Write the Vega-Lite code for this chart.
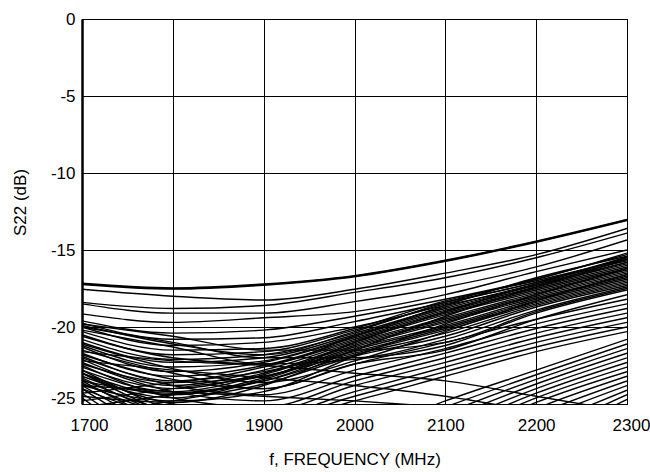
{
  "$schema": "https://vega.github.io/schema/vega-lite/v6.json",
  "autosize": {"type": "none"},
  "padding": {"left": 82, "top": 19, "right": 23, "bottom": 68},
  "width": 545,
  "height": 385,
  "background": "white",
  "config": {
    "font": "Liberation Sans, Arial, sans-serif",
    "view": {"stroke": "#000", "strokeWidth": 1}
  },
  "data": {"values": [
    {"c":"U1","f":1700,"s":-17.2},{"c":"U1","f":1800,"s":-17.5},{"c":"U1","f":1900,"s":-17.25},{"c":"U1","f":2000,"s":-16.7},{"c":"U1","f":2100,"s":-15.7},{"c":"U1","f":2200,"s":-14.46},{"c":"U1","f":2300,"s":-13.05},
    {"c":"U2","f":1700,"s":-17.55},{"c":"U2","f":1800,"s":-18.0},{"c":"U2","f":1900,"s":-18.25},{"c":"U2","f":2000,"s":-17.55},{"c":"U2","f":2100,"s":-16.5},{"c":"U2","f":2200,"s":-15.3},{"c":"U2","f":2300,"s":-13.6},
    {"c":"U3","f":1700,"s":-18.4},{"c":"U3","f":1800,"s":-18.8},{"c":"U3","f":1900,"s":-18.6},{"c":"U3","f":2000,"s":-17.75},{"c":"U3","f":2100,"s":-16.8},{"c":"U3","f":2200,"s":-15.5},{"c":"U3","f":2300,"s":-13.9},
    {"c":"U4","f":1700,"s":-18.5},{"c":"U4","f":1800,"s":-19.1},{"c":"U4","f":1900,"s":-19.1},{"c":"U4","f":2000,"s":-18.35},{"c":"U4","f":2100,"s":-17.4},{"c":"U4","f":2200,"s":-16.1},{"c":"U4","f":2300,"s":-14.35},
    {"c":"U5","f":1700,"s":-19.15},{"c":"U5","f":1800,"s":-19.7},{"c":"U5","f":1900,"s":-19.4},{"c":"U5","f":2000,"s":-19.0},{"c":"U5","f":2100,"s":-17.9},{"c":"U5","f":2200,"s":-16.4},{"c":"U5","f":2300,"s":-15.0},
    {"c":"U6","f":1700,"s":-19.6},{"c":"U6","f":1800,"s":-20.4},{"c":"U6","f":1900,"s":-20.2},{"c":"U6","f":2000,"s":-19.3},{"c":"U6","f":2100,"s":-18.2},{"c":"U6","f":2200,"s":-16.9},{"c":"U6","f":2300,"s":-15.2},
    {"c":"U7","f":1700,"s":-19.75},{"c":"U7","f":1800,"s":-20.8},{"c":"U7","f":1900,"s":-20.7},{"c":"U7","f":2000,"s":-19.65},{"c":"U7","f":2100,"s":-18.4},{"c":"U7","f":2200,"s":-17.1},{"c":"U7","f":2300,"s":-15.45},
    {"c":"U8","f":1700,"s":-20.0},{"c":"U8","f":1800,"s":-21.2},{"c":"U8","f":1900,"s":-21.0},{"c":"U8","f":2000,"s":-20.0},{"c":"U8","f":2100,"s":-18.6},{"c":"U8","f":2200,"s":-17.3},{"c":"U8","f":2300,"s":-15.6},
    {"c":"M1","f":1700,"s":-20.3},{"c":"M1","f":1800,"s":-21.5},{"c":"M1","f":1900,"s":-21.4},{"c":"M1","f":2000,"s":-20.1},{"c":"M1","f":2100,"s":-18.3},{"c":"M1","f":2200,"s":-17.0},{"c":"M1","f":2300,"s":-15.6},
    {"c":"M2","f":1700,"s":-20.5},{"c":"M2","f":1800,"s":-21.8},{"c":"M2","f":1900,"s":-21.6},{"c":"M2","f":2000,"s":-20.2},{"c":"M2","f":2100,"s":-18.5},{"c":"M2","f":2200,"s":-17.1},{"c":"M2","f":2300,"s":-15.7},
    {"c":"M3","f":1700,"s":-20.8},{"c":"M3","f":1800,"s":-22.1},{"c":"M3","f":1900,"s":-21.8},{"c":"M3","f":2000,"s":-20.4},{"c":"M3","f":2100,"s":-18.7},{"c":"M3","f":2200,"s":-17.2},{"c":"M3","f":2300,"s":-15.8},
    {"c":"M4","f":1700,"s":-21.0},{"c":"M4","f":1800,"s":-22.3},{"c":"M4","f":1900,"s":-22.0},{"c":"M4","f":2000,"s":-20.5},{"c":"M4","f":2100,"s":-18.8},{"c":"M4","f":2200,"s":-17.3},{"c":"M4","f":2300,"s":-15.9},
    {"c":"M5","f":1700,"s":-21.2},{"c":"M5","f":1800,"s":-22.6},{"c":"M5","f":1900,"s":-22.2},{"c":"M5","f":2000,"s":-20.6},{"c":"M5","f":2100,"s":-18.9},{"c":"M5","f":2200,"s":-17.4},{"c":"M5","f":2300,"s":-16.0},
    {"c":"M6","f":1700,"s":-21.3},{"c":"M6","f":1800,"s":-22.9},{"c":"M6","f":1900,"s":-22.3},{"c":"M6","f":2000,"s":-20.7},{"c":"M6","f":2100,"s":-19.0},{"c":"M6","f":2200,"s":-17.5},{"c":"M6","f":2300,"s":-16.1},
    {"c":"M7","f":1700,"s":-21.7},{"c":"M7","f":1800,"s":-23.2},{"c":"M7","f":1900,"s":-22.5},{"c":"M7","f":2000,"s":-20.8},{"c":"M7","f":2100,"s":-19.1},{"c":"M7","f":2200,"s":-17.6},{"c":"M7","f":2300,"s":-16.2},
    {"c":"M8","f":1700,"s":-21.9},{"c":"M8","f":1800,"s":-23.5},{"c":"M8","f":1900,"s":-22.6},{"c":"M8","f":2000,"s":-20.9},{"c":"M8","f":2100,"s":-19.2},{"c":"M8","f":2200,"s":-17.7},{"c":"M8","f":2300,"s":-16.3},
    {"c":"M9","f":1700,"s":-22.1},{"c":"M9","f":1800,"s":-23.8},{"c":"M9","f":1900,"s":-22.8},{"c":"M9","f":2000,"s":-21.0},{"c":"M9","f":2100,"s":-19.4},{"c":"M9","f":2200,"s":-17.8},{"c":"M9","f":2300,"s":-16.4},
    {"c":"M10","f":1700,"s":-22.6},{"c":"M10","f":1800,"s":-24.0},{"c":"M10","f":1900,"s":-23.0},{"c":"M10","f":2000,"s":-21.1},{"c":"M10","f":2100,"s":-19.5},{"c":"M10","f":2200,"s":-17.9},{"c":"M10","f":2300,"s":-16.5},
    {"c":"M11","f":1700,"s":-22.8},{"c":"M11","f":1800,"s":-24.2},{"c":"M11","f":1900,"s":-23.1},{"c":"M11","f":2000,"s":-21.2},{"c":"M11","f":2100,"s":-19.6},{"c":"M11","f":2200,"s":-18.0},{"c":"M11","f":2300,"s":-16.6},
    {"c":"M12","f":1700,"s":-23.0},{"c":"M12","f":1800,"s":-24.4},{"c":"M12","f":1900,"s":-23.3},{"c":"M12","f":2000,"s":-21.3},{"c":"M12","f":2100,"s":-19.7},{"c":"M12","f":2200,"s":-18.1},{"c":"M12","f":2300,"s":-16.7},
    {"c":"M13","f":1700,"s":-23.2},{"c":"M13","f":1800,"s":-24.6},{"c":"M13","f":1900,"s":-23.4},{"c":"M13","f":2000,"s":-21.4},{"c":"M13","f":2100,"s":-19.9},{"c":"M13","f":2200,"s":-18.2},{"c":"M13","f":2300,"s":-16.8},
    {"c":"M14","f":1700,"s":-23.5},{"c":"M14","f":1800,"s":-24.3},{"c":"M14","f":1900,"s":-23.5},{"c":"M14","f":2000,"s":-21.5},{"c":"M14","f":2100,"s":-20.0},{"c":"M14","f":2200,"s":-18.3},{"c":"M14","f":2300,"s":-16.9},
    {"c":"M15","f":1700,"s":-24.3},{"c":"M15","f":1800,"s":-23.6},{"c":"M15","f":1900,"s":-22.9},{"c":"M15","f":2000,"s":-21.6},{"c":"M15","f":2100,"s":-20.1},{"c":"M15","f":2200,"s":-18.4},{"c":"M15","f":2300,"s":-17.0},
    {"c":"M16","f":1700,"s":-24.8},{"c":"M16","f":1800,"s":-24.0},{"c":"M16","f":1900,"s":-23.2},{"c":"M16","f":2000,"s":-21.7},{"c":"M16","f":2100,"s":-20.2},{"c":"M16","f":2200,"s":-18.5},{"c":"M16","f":2300,"s":-17.1},
    {"c":"M17","f":1700,"s":-25.2},{"c":"M17","f":1800,"s":-24.4},{"c":"M17","f":1900,"s":-23.5},{"c":"M17","f":2000,"s":-21.8},{"c":"M17","f":2100,"s":-20.4},{"c":"M17","f":2200,"s":-18.6},{"c":"M17","f":2300,"s":-17.2},
    {"c":"M18","f":1700,"s":-25.8},{"c":"M18","f":1800,"s":-24.8},{"c":"M18","f":1900,"s":-23.7},{"c":"M18","f":2000,"s":-21.9},{"c":"M18","f":2100,"s":-20.6},{"c":"M18","f":2200,"s":-18.7},{"c":"M18","f":2300,"s":-17.3},
    {"c":"M19","f":1700,"s":-20.0},{"c":"M19","f":1800,"s":-21.0},{"c":"M19","f":1900,"s":-22.0},{"c":"M19","f":2000,"s":-22.0},{"c":"M19","f":2100,"s":-20.8},{"c":"M19","f":2200,"s":-18.9},{"c":"M19","f":2300,"s":-17.4},
    {"c":"M20","f":1700,"s":-19.8},{"c":"M20","f":1800,"s":-20.6},{"c":"M20","f":1900,"s":-21.5},{"c":"M20","f":2000,"s":-21.5},{"c":"M20","f":2100,"s":-21.0},{"c":"M20","f":2200,"s":-19.0},{"c":"M20","f":2300,"s":-17.5},
    {"c":"M21","f":1700,"s":-20.2},{"c":"M21","f":1800,"s":-21.3},{"c":"M21","f":1900,"s":-22.4},{"c":"M21","f":2000,"s":-22.1},{"c":"M21","f":2100,"s":-21.2},{"c":"M21","f":2200,"s":-19.1},{"c":"M21","f":2300,"s":-17.6},
    {"c":"M22","f":1700,"s":-21.5},{"c":"M22","f":1800,"s":-23.0},{"c":"M22","f":1900,"s":-24.0},{"c":"M22","f":2000,"s":-22.4},{"c":"M22","f":2100,"s":-21.5},{"c":"M22","f":2200,"s":-19.5},{"c":"M22","f":2300,"s":-17.9},
    {"c":"M23","f":1700,"s":-19.9},{"c":"M23","f":1800,"s":-21.1},{"c":"M23","f":1900,"s":-21.8},{"c":"M23","f":2000,"s":-20.3},{"c":"M23","f":2100,"s":-18.4},{"c":"M23","f":2200,"s":-16.9},{"c":"M23","f":2300,"s":-15.3},
    {"c":"M24","f":1700,"s":-20.6},{"c":"M24","f":1800,"s":-22.0},{"c":"M24","f":1900,"s":-22.4},{"c":"M24","f":2000,"s":-20.6},{"c":"M24","f":2100,"s":-18.6},{"c":"M24","f":2200,"s":-16.8},{"c":"M24","f":2300,"s":-15.4},
    {"c":"M25","f":1700,"s":-22.4},{"c":"M25","f":1800,"s":-23.6},{"c":"M25","f":1900,"s":-23.2},{"c":"M25","f":2000,"s":-21.0},{"c":"M25","f":2100,"s":-19.0},{"c":"M25","f":2200,"s":-17.2},{"c":"M25","f":2300,"s":-15.5},
    {"c":"M26","f":1700,"s":-24.5},{"c":"M26","f":1800,"s":-24.9},{"c":"M26","f":1900,"s":-23.8},{"c":"M26","f":2000,"s":-21.5},{"c":"M26","f":2100,"s":-19.3},{"c":"M26","f":2200,"s":-17.4},{"c":"M26","f":2300,"s":-15.8},
    {"c":"M27","f":1700,"s":-23.8},{"c":"M27","f":1800,"s":-24.8},{"c":"M27","f":1900,"s":-24.2},{"c":"M27","f":2000,"s":-21.9},{"c":"M27","f":2100,"s":-19.8},{"c":"M27","f":2200,"s":-17.9},{"c":"M27","f":2300,"s":-16.2},
    {"c":"M28","f":1700,"s":-21.1},{"c":"M28","f":1800,"s":-22.7},{"c":"M28","f":1900,"s":-23.6},{"c":"M28","f":2000,"s":-22.2},{"c":"M28","f":2100,"s":-20.3},{"c":"M28","f":2200,"s":-18.3},{"c":"M28","f":2300,"s":-16.6},
    {"c":"W1","f":1700,"s":-21.8},{"c":"W1","f":1800,"s":-23.4},{"c":"W1","f":1900,"s":-24.0},{"c":"W1","f":2000,"s":-22.4},{"c":"W1","f":2100,"s":-21.0},{"c":"W1","f":2200,"s":-19.5},{"c":"W1","f":2300,"s":-18.2},
    {"c":"W2","f":1700,"s":-22.0},{"c":"W2","f":1800,"s":-23.8},{"c":"W2","f":1900,"s":-24.4},{"c":"W2","f":2000,"s":-22.8},{"c":"W2","f":2100,"s":-21.4},{"c":"W2","f":2200,"s":-19.8},{"c":"W2","f":2300,"s":-18.5},
    {"c":"W3","f":1700,"s":-22.3},{"c":"W3","f":1800,"s":-24.2},{"c":"W3","f":1900,"s":-24.8},{"c":"W3","f":2000,"s":-23.2},{"c":"W3","f":2100,"s":-21.7},{"c":"W3","f":2200,"s":-20.1},{"c":"W3","f":2300,"s":-18.8},
    {"c":"W4","f":1700,"s":-22.5},{"c":"W4","f":1800,"s":-24.6},{"c":"W4","f":1900,"s":-25.2},{"c":"W4","f":2000,"s":-23.5},{"c":"W4","f":2100,"s":-22.0},{"c":"W4","f":2200,"s":-20.4},{"c":"W4","f":2300,"s":-19.1},
    {"c":"W5","f":1700,"s":-23.0},{"c":"W5","f":1800,"s":-25.0},{"c":"W5","f":1900,"s":-25.5},{"c":"W5","f":2000,"s":-23.8},{"c":"W5","f":2100,"s":-22.3},{"c":"W5","f":2200,"s":-20.7},{"c":"W5","f":2300,"s":-19.4},
    {"c":"W6","f":1700,"s":-23.4},{"c":"W6","f":1800,"s":-25.4},{"c":"W6","f":1900,"s":-25.8},{"c":"W6","f":2000,"s":-24.2},{"c":"W6","f":2100,"s":-22.6},{"c":"W6","f":2200,"s":-21.0},{"c":"W6","f":2300,"s":-19.7},
    {"c":"W7","f":1700,"s":-23.65},{"c":"W7","f":1800,"s":-25.6},{"c":"W7","f":1900,"s":-26.0},{"c":"W7","f":2000,"s":-24.5},{"c":"W7","f":2100,"s":-22.9},{"c":"W7","f":2200,"s":-21.3},{"c":"W7","f":2300,"s":-20.0},
    {"c":"W8","f":1700,"s":-24.0},{"c":"W8","f":1800,"s":-25.8},{"c":"W8","f":1900,"s":-26.2},{"c":"W8","f":2000,"s":-24.8},{"c":"W8","f":2100,"s":-23.2},{"c":"W8","f":2200,"s":-21.6},{"c":"W8","f":2300,"s":-20.3},
    {"c":"L1","f":1700,"s":-22.8},{"c":"L1","f":1800,"s":-25.5},{"c":"L1","f":1900,"s":-27.5},{"c":"L1","f":2000,"s":-27.0},{"c":"L1","f":2100,"s":-24.8},{"c":"L1","f":2200,"s":-22.8},{"c":"L1","f":2300,"s":-20.8},
    {"c":"L2","f":1700,"s":-23.0},{"c":"L2","f":1800,"s":-25.8},{"c":"L2","f":1900,"s":-28.0},{"c":"L2","f":2000,"s":-27.5},{"c":"L2","f":2100,"s":-25.2},{"c":"L2","f":2200,"s":-23.1},{"c":"L2","f":2300,"s":-21.1},
    {"c":"L3","f":1700,"s":-23.3},{"c":"L3","f":1800,"s":-26.0},{"c":"L3","f":1900,"s":-28.5},{"c":"L3","f":2000,"s":-28.0},{"c":"L3","f":2100,"s":-25.6},{"c":"L3","f":2200,"s":-23.4},{"c":"L3","f":2300,"s":-21.4},
    {"c":"L4","f":1700,"s":-23.5},{"c":"L4","f":1800,"s":-26.5},{"c":"L4","f":1900,"s":-29.0},{"c":"L4","f":2000,"s":-28.5},{"c":"L4","f":2100,"s":-26.0},{"c":"L4","f":2200,"s":-23.7},{"c":"L4","f":2300,"s":-21.7},
    {"c":"L5","f":1700,"s":-23.8},{"c":"L5","f":1800,"s":-27.0},{"c":"L5","f":1900,"s":-29.5},{"c":"L5","f":2000,"s":-29.0},{"c":"L5","f":2100,"s":-26.4},{"c":"L5","f":2200,"s":-24.0},{"c":"L5","f":2300,"s":-22.0},
    {"c":"L6","f":1700,"s":-24.0},{"c":"L6","f":1800,"s":-27.5},{"c":"L6","f":1900,"s":-30.0},{"c":"L6","f":2000,"s":-29.5},{"c":"L6","f":2100,"s":-26.8},{"c":"L6","f":2200,"s":-24.3},{"c":"L6","f":2300,"s":-22.3},
    {"c":"L7","f":1700,"s":-24.3},{"c":"L7","f":1800,"s":-28.0},{"c":"L7","f":1900,"s":-30.5},{"c":"L7","f":2000,"s":-30.0},{"c":"L7","f":2100,"s":-27.2},{"c":"L7","f":2200,"s":-24.6},{"c":"L7","f":2300,"s":-22.6},
    {"c":"L8","f":1700,"s":-24.6},{"c":"L8","f":1800,"s":-28.5},{"c":"L8","f":1900,"s":-31.0},{"c":"L8","f":2000,"s":-30.5},{"c":"L8","f":2100,"s":-27.6},{"c":"L8","f":2200,"s":-24.9},{"c":"L8","f":2300,"s":-22.9},
    {"c":"L9","f":1700,"s":-25.5},{"c":"L9","f":1800,"s":-29.0},{"c":"L9","f":1900,"s":-31.0},{"c":"L9","f":2000,"s":-31.0},{"c":"L9","f":2100,"s":-28.0},{"c":"L9","f":2200,"s":-25.3},{"c":"L9","f":2300,"s":-23.2},
    {"c":"L10","f":1700,"s":-26.0},{"c":"L10","f":1800,"s":-29.5},{"c":"L10","f":1900,"s":-31.5},{"c":"L10","f":2000,"s":-31.5},{"c":"L10","f":2100,"s":-28.5},{"c":"L10","f":2200,"s":-25.7},{"c":"L10","f":2300,"s":-23.5},
    {"c":"L11","f":1700,"s":-27.0},{"c":"L11","f":1800,"s":-30.0},{"c":"L11","f":1900,"s":-32.0},{"c":"L11","f":2000,"s":-32.0},{"c":"L11","f":2100,"s":-29.0},{"c":"L11","f":2200,"s":-26.1},{"c":"L11","f":2300,"s":-23.8},
    {"c":"L12","f":1700,"s":-28.0},{"c":"L12","f":1800,"s":-30.5},{"c":"L12","f":1900,"s":-32.5},{"c":"L12","f":2000,"s":-32.5},{"c":"L12","f":2100,"s":-29.5},{"c":"L12","f":2200,"s":-26.6},{"c":"L12","f":2300,"s":-24.1},
    {"c":"L13","f":1700,"s":-29.0},{"c":"L13","f":1800,"s":-31.0},{"c":"L13","f":1900,"s":-33.0},{"c":"L13","f":2000,"s":-33.0},{"c":"L13","f":2100,"s":-30.0},{"c":"L13","f":2200,"s":-27.1},{"c":"L13","f":2300,"s":-24.4},
    {"c":"L14","f":1700,"s":-30.0},{"c":"L14","f":1800,"s":-31.5},{"c":"L14","f":1900,"s":-33.5},{"c":"L14","f":2000,"s":-33.5},{"c":"L14","f":2100,"s":-30.5},{"c":"L14","f":2200,"s":-27.6},{"c":"L14","f":2300,"s":-24.7},
    {"c":"D1","f":1700,"s":-22.2},{"c":"D1","f":1800,"s":-22.8},{"c":"D1","f":1900,"s":-23.3},{"c":"D1","f":2000,"s":-23.8},{"c":"D1","f":2100,"s":-24.5},{"c":"D1","f":2200,"s":-25.5},{"c":"D1","f":2300,"s":-26.5},
    {"c":"D2","f":1700,"s":-21.6},{"c":"D2","f":1800,"s":-22.2},{"c":"D2","f":1900,"s":-22.5},{"c":"D2","f":2000,"s":-23.0},{"c":"D2","f":2100,"s":-23.5},{"c":"D2","f":2200,"s":-24.5},{"c":"D2","f":2300,"s":-25.5},
    {"c":"D3","f":1700,"s":-23.8},{"c":"D3","f":1800,"s":-24.2},{"c":"D3","f":1900,"s":-24.5},{"c":"D3","f":2000,"s":-24.8},{"c":"D3","f":2100,"s":-25.2},{"c":"D3","f":2200,"s":-25.5},{"c":"D3","f":2300,"s":-26.0}
  ]},
  "encoding": {
    "x": {
      "field": "f", "type": "quantitative",
      "scale": {"domain": [1700, 2300], "nice": false, "zero": false},
      "axis": {
        "values": [1700, 1800, 1900, 2000, 2100, 2200, 2300],
        "labelExpr": "datum.value + ''",
        "labelFlush": false,
        "title": "f, FREQUENCY (MHz)",
        "titleFontSize": 17, "titleFontWeight": "normal", "titleColor": "#000", "titlePadding": 18,
        "labelFontSize": 17, "labelColor": "#000", "labelPadding": 13,
        "labelOffset": {"condition": [{"test": "datum.value == 1700", "value": 7}, {"test": "datum.value == 2300", "value": 4}], "value": 0},
        "ticks": false, "domain": false,
        "grid": true, "gridColor": "#000", "gridOpacity": 1, "gridWidth": 1
      }
    },
    "y": {
      "field": "s", "type": "quantitative",
      "scale": {"domain": [-25, 0], "nice": false, "zero": false},
      "axis": {
        "values": [0, -5, -10, -15, -20, -25],
        "labelExpr": "datum.value + ''",
        "labelFlush": false,
        "title": "S22 (dB)",
        "titleFontSize": 17, "titleFontWeight": "normal", "titleColor": "#000", "titlePadding": 21, "titleY": 183,
        "labelFontSize": 17, "labelColor": "#000", "labelPadding": 7,
        "labelOffset": {"condition": {"test": "datum.value == -25", "value": -6}, "value": 0},
        "ticks": false, "domain": true, "domainColor": "#000", "domainWidth": 2.5,
        "grid": true, "gridColor": "#000", "gridOpacity": 1, "gridWidth": 1
      }
    },
    "detail": {"field": "c", "type": "nominal"}
  },
  "layer": [
    {"mark": {"type": "line", "color": "#000", "strokeWidth": 1.4, "interpolate": "monotone", "clip": true}},
    {"transform": [{"filter": "datum.c == 'U1'"}],
     "mark": {"type": "line", "color": "#000", "strokeWidth": 2.6, "interpolate": "monotone", "clip": true}}
  ]
}
